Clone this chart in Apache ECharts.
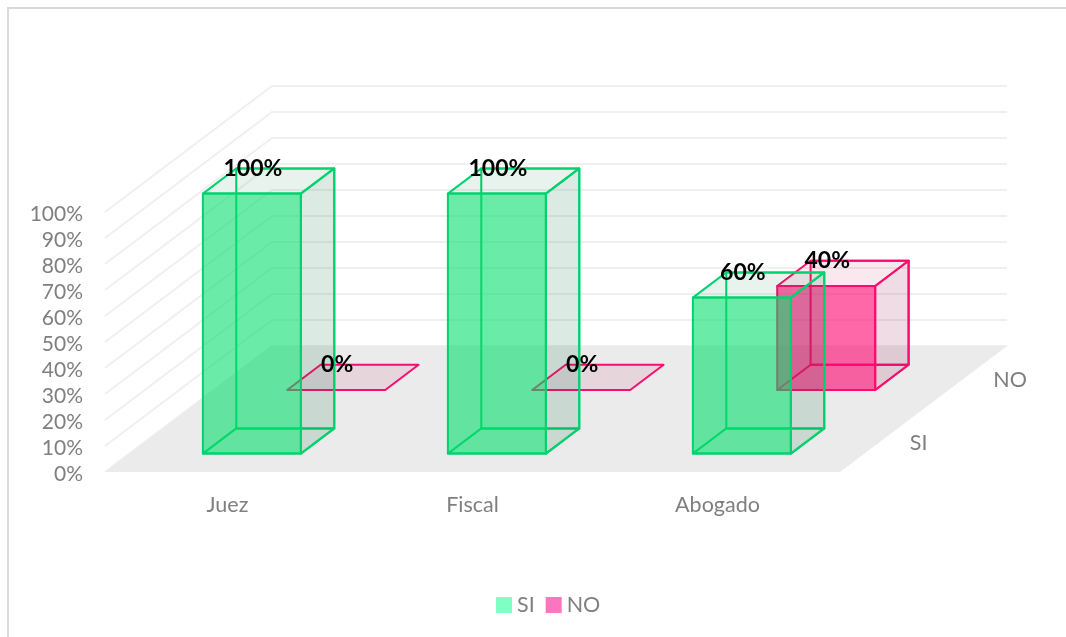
<!DOCTYPE html>
<html>
<head>
<meta charset="utf-8">
<style>html,body{margin:0;padding:0;background:#fff}#c{width:1066px;height:637px}</style>
<script src="https://cdn.jsdelivr.net/npm/echarts@6/dist/echarts.min.js"></script>
</head>
<body>
<div id="c"></div>
<script>
const categories = ['Juez', 'Fiscal', 'Abogado'];
const seriesNames = ['SI', 'NO'];
const siValues = [100, 100, 60];
const noValues = [0, 0, 40];
const valueTicks = [0, 10, 20, 30, 40, 50, 60, 70, 80, 90, 100];

const FONT = 'Lato';
const DEPTH_X = 167, DEPTH_Y = -126;      // oblique projection of the floor depth
const ROW_T = {SI: 0.146, NO: 0.651};     // front of each row along the depth
const BAR_T = 0.2;                        // bar depth along the depth
const BAR_W = 0.4;                        // bar width as a share of the band

const STY = {
  SI: {edge: '#00D26F', front: 'rgba(0,220,105,0.58)', side: 'rgba(0,115,65,0.14)', top: 'rgba(0,120,65,0.09)'},
  NO: {edge: '#FF0A6E', front: 'rgba(255,3,110,0.60)', side: 'rgba(143,7,71,0.14)', top: 'rgba(189,11,78,0.09)'}
};

const proj = (p, t) => [p[0] + DEPTH_X * t, p[1] + DEPTH_Y * t];

function barRenderer(name) {
  const s = STY[name], t0 = ROW_T[name], t1 = t0 + BAR_T;
  return function (params, api) {
    const cat = api.value(0), v = api.value(1);
    const band = api.size([1, 0])[0];
    const bot = api.coord([cat, 0]), top = api.coord([cat, v]);
    const hw = band * BAR_W / 2;
    const L = bot[0] - hw, R = bot[0] + hw, yb = bot[1], yt = top[1];
    const P = (x, y, t) => proj([x, y], t);
    const face = (pts, fill) => ({
      type: 'polygon', shape: {points: pts},
      style: {fill: fill, stroke: s.edge, lineWidth: 2, lineJoin: 'round'}
    });
    const kids = [];
    const flb = P(L, yb, t0), frb = P(R, yb, t0), frt = P(R, yt, t0), flt = P(L, yt, t0);
    const blb = P(L, yb, t1), brb = P(R, yb, t1), brt = P(R, yt, t1), blt = P(L, yt, t1);
    if (v > 0) {
      kids.push(face([blb, brb, brt, blt], 'rgba(0,0,0,0)'));
      kids.push(face([flb, frb, brb, blb], 'rgba(0,0,0,0)'));
      kids.push(face([frb, brb, brt, frt], s.side));
    }
    kids.push(face([flt, frt, brt, blt], s.top));
    if (v > 0) kids.push(face([flb, frb, frt, flt], s.front));
    return {type: 'group', children: kids};
  };
}

function labelRenderer(name) {
  const t1 = ROW_T[name] + BAR_T;
  return function (params, api) {
    const top = api.coord([api.value(0), api.value(1)]);
    const offset = proj([0, 0], ROW_T[name]);
    const back = proj(top, t1);
    return {
      type: 'text', z2: 100,
      style: {
        x: top[0] + offset[0] + 1, y: back[1],
        text: api.value(1) + '%', fill: '#000',
        font: 'bold 23px ' + FONT, align: 'center', verticalAlign: 'middle'
      }
    };
  };
}

const floorSeries = {
  type: 'custom', silent: true, z: 1, data: [[0, 0]], encode: {x: 0, y: 1},
  renderItem(params, api) {
    const band = api.size([1, 0])[0];
    const o = api.coord([0, 0]);
    const a = [o[0] - band / 2, o[1]];
    const b = [a[0] + band * categories.length, o[1]];
    return {type: 'polygon', shape: {points: [a, b, proj(b, 1), proj(a, 1)]}, style: {fill: '#EBEBEB'}};
  }
};

const gridSeries = {
  type: 'custom', silent: true, z: 0,
  data: valueTicks.map(v => [0, v]), encode: {x: 0, y: 1},
  renderItem(params, api) {
    const band = api.size([1, 0])[0];
    const o = api.coord([0, api.value(1)]);
    const a = [o[0] - band / 2, o[1]];
    const b = [a[0] + band * categories.length, o[1]];
    return {
      type: 'polyline',
      shape: {points: [a, proj(a, 1), proj(b, 1)]},
      style: {stroke: '#F0F0F0', lineWidth: 2, fill: null}
    };
  }
};

const depthLabelSeries = {
  type: 'custom', silent: true, z: 6,
  data: [[0, 0, 0.25], [0, 0, 0.75]], encode: {x: 0, y: 1},
  renderItem(params, api) {
    const band = api.size([1, 0])[0];
    const o = api.coord([0, 0]);
    const p = proj([o[0] - band / 2 + band * categories.length, o[1]], api.value(2));
    return {
      type: 'text',
      style: {
        x: p[0] + 28, y: p[1] + 3, text: seriesNames[params.dataIndex], fill: '#7F7F7F',
        font: '21.5px ' + FONT, align: 'left', verticalAlign: 'middle'
      }
    };
  }
};

const toData = vals => vals.map((v, i) => [i, v]);

const chart = echarts.init(document.getElementById('c'), null, {renderer: 'canvas'});
chart.setOption({
  animation: false,
  backgroundColor: '#fff',
  graphic: [{
    type: 'rect', silent: true,
    shape: {x: 8, y: 8, width: 1200, height: 800},
    style: {fill: 'none', stroke: '#D9D9D9', lineWidth: 2}
  }],
  grid: {left: 105, width: 735, top: 212, height: 260},
  xAxis: {
    type: 'category', data: categories, boundaryGap: true,
    axisLine: {show: false}, axisTick: {show: false}, splitLine: {show: false},
    axisLabel: {color: '#7F7F7F', fontFamily: FONT, fontSize: 21.5, margin: 22}
  },
  yAxis: {
    type: 'value', min: 0, max: 100, interval: 10,
    axisLine: {show: false}, axisTick: {show: false}, splitLine: {show: false},
    axisLabel: {color: '#7F7F7F', fontFamily: FONT, fontSize: 21, margin: 22, verticalAlign: 'top', lineHeight: 5, formatter: '{value}%'}
  },
  legend: {
    data: seriesNames, top: 589, left: 491, icon: 'rect',
    itemWidth: 16, itemHeight: 16, itemGap: 11, selectedMode: false,
    textStyle: {color: '#7F7F7F', fontFamily: FONT, fontSize: 21.5}
  },
  series: [
    gridSeries, floorSeries, depthLabelSeries,
    {type: 'custom', name: 'NO', z: 3, data: toData(noValues), encode: {x: 0, y: 1},
     itemStyle: {color: '#FF74BF'}, renderItem: barRenderer('NO')},
    {type: 'custom', name: 'SI', z: 4, data: toData(siValues), encode: {x: 0, y: 1},
     itemStyle: {color: '#7FFFC4'}, renderItem: barRenderer('SI')},
    {type: 'custom', z: 10, silent: true, data: toData(noValues), encode: {x: 0, y: 1}, renderItem: labelRenderer('NO')},
    {type: 'custom', z: 10, silent: true, data: toData(siValues), encode: {x: 0, y: 1}, renderItem: labelRenderer('SI')}
  ]
});
</script>
</body>
</html>
